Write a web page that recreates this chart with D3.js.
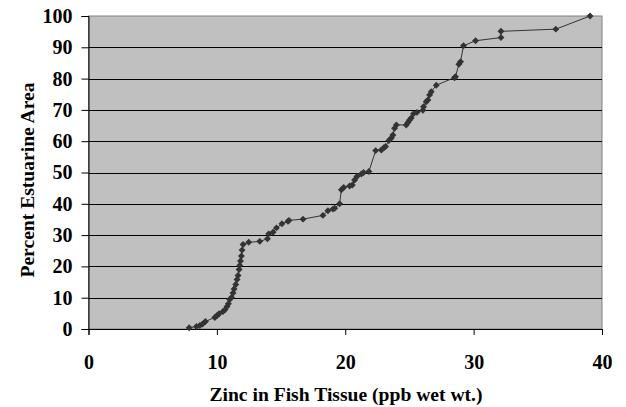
<!DOCTYPE html>
<html>
<head>
<meta charset="utf-8">
<script src="https://cdn.jsdelivr.net/npm/d3@7"></script>
<style>
  body { margin: 0; background: #fff; }
  svg text { font-family: "Liberation Serif", "Times New Roman", serif; font-weight: 700; fill: #000; }
</style>
</head>
<body>
<script>
// zinc concentration (ppb wet wt.) vs cumulative percent of estuarine area
var zinc = [7.84, 8.41, 8.67, 8.88, 9.11, 9.84, 10.02, 10.17, 10.48, 10.64,
  10.79, 10.9, 11.0, 11.14, 11.26, 11.34, 11.47, 11.57, 11.65, 11.73,
  11.78, 11.84, 11.91, 11.96, 12.04, 12.48, 13.34, 13.94, 14.04, 14.37,
  14.64, 15.07, 15.54, 15.62, 16.71, 18.26, 18.65, 19.04, 19.18, 19.56,
  19.7, 19.88, 20.34, 20.55, 20.73, 20.91, 21.25, 21.43, 21.84, 22.37,
  22.81, 23.01, 23.14, 23.4, 23.59, 23.71, 23.84, 23.98, 24.75, 24.88,
  25.01, 25.14, 25.32, 25.58, 26.05, 26.1, 26.31, 26.44, 26.57, 26.7,
  27.09, 28.51, 28.59, 28.85, 28.98, 29.21, 30.15, 32.13, 32.13, 36.4, 39.07];
var percent = [0.4, 0.8, 1.1, 1.6, 2.4, 3.7, 4.3, 4.9, 5.6, 6.2,
  7.2, 8.1, 9.4, 10.1, 11.5, 12.8, 14.2, 15.8, 17.1, 19.0,
  20.3, 21.7, 23.3, 25.2, 27.0, 27.7, 28.0, 28.8, 30.4, 30.9,
  32.3, 33.6, 34.4, 34.7, 35.1, 36.3, 37.8, 38.3, 38.6, 40.0,
  44.5, 45.2, 45.7, 46.0, 47.6, 48.7, 49.5, 50.0, 50.3, 57.0,
  57.2, 57.9, 58.3, 60.2, 61.0, 62.0, 64.1, 65.2, 65.2, 66.0,
  66.8, 67.4, 68.8, 69.2, 69.9, 71.0, 72.6, 73.2, 74.8, 75.8,
  77.9, 80.3, 80.6, 84.6, 85.4, 90.5, 92.1, 93.1, 95.1, 95.8, 100];
var xTicks = [0, 10, 20, 30, 40];
var yTicks = [0, 10, 20, 30, 40, 50, 60, 70, 80, 90, 100];

var svgWidth = 626;
var svgHeight = 407;
var margin = { top: 16, right: 24, bottom: 78, left: 88.5 };
var width = svgWidth - margin.left - margin.right;
var height = svgHeight - margin.top - margin.bottom;

var svg = d3.select("body").append("svg")
  .attr("width", svgWidth)
  .attr("height", svgHeight);

var chart = svg.append("g")
  .attr("transform", "translate(" + margin.left + "," + margin.top + ")");

var x = d3.scaleLinear().domain([0, 40]).range([0, width]);
var y = d3.scaleLinear().domain([0, 100]).range([height, 0]);

// plot background
chart.append("rect")
  .attr("width", width)
  .attr("height", height)
  .attr("fill", "#c0c0c0")
  .attr("stroke", "#808080")
  .attr("stroke-width", 1);

// gridlines
chart.append("g")
  .selectAll("line")
  .data(yTicks.slice(1, -1))
  .enter().append("line")
  .attr("x1", 0)
  .attr("x2", width)
  .attr("y1", d => Math.round(y(d)) + 0.5)
  .attr("y2", d => Math.round(y(d)) + 0.5)
  .attr("stroke", "#000")
  .attr("stroke-width", 1);

// axes
var xAxis = d3.axisBottom(x).tickValues(xTicks).tickSize(6).tickPadding(20);
var yAxis = d3.axisLeft(y).tickValues(yTicks).tickSize(7).tickPadding(9);

var gx = chart.append("g")
  .attr("transform", "translate(0," + height + ")")
  .call(xAxis);
var gy = chart.append("g").call(yAxis);

[gx, gy].forEach(function(g) {
  g.attr("font-family", '"Liberation Serif", serif')
    .attr("font-size", 20)
    .attr("font-weight", 700);
  g.select(".domain").attr("stroke", "#000");
  g.selectAll(".tick line").attr("stroke", "#000");
  g.selectAll(".tick text")
    .style("font-size", "20px")
    .style("font-weight", "700")
    .attr("fill", "#000");
});

// series line
var line = d3.line()
  .x((d, i) => x(zinc[i]))
  .y(d => y(d));

chart.append("path")
  .datum(percent)
  .attr("fill", "none")
  .attr("stroke", "#333")
  .attr("stroke-width", 1)
  .attr("d", line);

// diamond markers
var diamond = d3.symbol().type(d3.symbolSquare).size(24);
chart.append("g")
  .selectAll("path")
  .data(percent)
  .enter().append("path")
  .attr("d", diamond)
  .attr("transform", (d, i) => "translate(" + x(zinc[i]) + "," + y(d) + ") rotate(45)")
  .attr("fill", "#333");

// axis titles
svg.append("text")
  .attr("x", 346)
  .attr("y", 401)
  .style("text-anchor", "middle")
  .style("font-size", "19.6px")
  .text("Zinc in Fish Tissue (ppb wet wt.)");

svg.append("text")
  .attr("transform", "translate(34,180) rotate(-90)")
  .style("text-anchor", "middle")
  .style("font-size", "19.6px")
  .text("Percent Estuarine Area");
</script>
</body>
</html>
